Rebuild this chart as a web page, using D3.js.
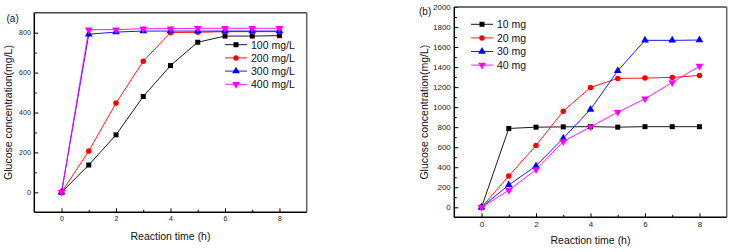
<!DOCTYPE html>
<html><head><meta charset="utf-8">
<script src="https://cdn.jsdelivr.net/npm/d3@7"></script>
<style>body{margin:0;background:#fff}svg{display:block}text{font-family:"Liberation Sans",Arial,sans-serif}</style>
</head><body>
<svg id="c" width="732" height="252"></svg>
<script>
const times = [0,1,2,3,4,5,6,7,8];
// Panel (a)
const seriesA = ["100 mg/L","200 mg/L","300 mg/L","400 mg/L"];
const a100 = [0,137,288,480,635,752,783,783,785];
const a200 = [0,207,447,657,800,802,805,805,805];
const a300 = [0,792,803,808,808,808,808,808,808];
const a400 = [0,815,815,820,820,822,822,822,822];
const yTicksA = [0,200,400,600,800];
// Panel (b)
const seriesB = ["10 mg","20 mg","30 mg","40 mg"];
const b10 = [0,787,800,803,805,800,805,805,805];
const b20 = [0,313,617,960,1197,1287,1290,1297,1317];
const b30 = [0,223,413,690,977,1363,1667,1667,1670];
const b40 = [0,170,377,657,803,950,1083,1247,1410];
const yTicksB = [0,200,400,600,800,1000,1200,1400,1600,1800,2000];
const xTicks = [0,2,4,6,8];

const colors = ["#000000","#ff0000","#0000ff","#ff00ff"];
const shapes = [d3.symbolSquare, d3.symbolCircle, d3.symbolTriangle, "down"];

const svg = d3.select("#c");

function marker(g, k, x, y, size){
  if (shapes[k] === "down") {
    g.append("path").attr("d", d3.symbol(d3.symbolTriangle, size)())
      .attr("transform", `translate(${x},${y}) rotate(180)`).attr("fill", colors[k]);
  } else {
    g.append("path").attr("d", d3.symbol(shapes[k], size)())
      .attr("transform", `translate(${x},${y})`).attr("fill", colors[k]);
  }
}

function panel(o){
  const g = svg.append("g");
  const x = d3.scaleLinear().domain([-1,9]).range([o.l, o.r]);
  const y = d3.scaleLinear().domain(o.yDom).range([o.b, o.t]);
  // minor ticks
  const xMinor = [1,3,5,7];
  const yMinor = d3.range(100, o.yDom[1], 200);
  g.append("g").attr("transform",`translate(0,${o.b})`)
    .call(d3.axisBottom(x).tickValues(xMinor).tickSize(-2.5).tickFormat(""))
    .call(s=>s.select(".domain").remove());
  g.append("g").attr("transform",`translate(${o.l},0)`)
    .call(d3.axisLeft(y).tickValues(yMinor).tickSize(-2.5).tickFormat(""))
    .call(s=>s.select(".domain").remove());
  const xa = g.append("g").attr("transform",`translate(0,${o.b})`)
    .call(d3.axisBottom(x).tickValues(xTicks).tickSize(-4).tickPadding(o.xPad).tickFormat(d3.format("d")));
  const ya = g.append("g").attr("transform",`translate(${o.l},0)`)
    .call(d3.axisLeft(y).tickValues(o.yTicks).tickSize(-4).tickPadding(3.5).tickFormat(d3.format("d")));
  [xa,ya].forEach(a=>{
    a.select(".domain").remove();
    a.selectAll(".tick line").attr("stroke","#000").attr("stroke-width",1);
    a.selectAll(".tick text").attr("font-size",o.tickFont).attr("fill","#222")
      .style("font-family","'Liberation Sans',Arial,sans-serif");
  });
  g.selectAll(".tick line").attr("stroke","#000");
  // frame
  g.append("line").attr("x1",o.l).attr("x2",o.r).attr("y1",o.t).attr("y2",o.t).attr("stroke","#444").attr("stroke-width",1.5);
  g.append("line").attr("x1",o.r).attr("x2",o.r).attr("y1",o.t).attr("y2",o.b).attr("stroke","#666").attr("stroke-width",1.5);
  g.append("line").attr("x1",o.l).attr("x2",o.r).attr("y1",o.b).attr("y2",o.b).attr("stroke","#000").attr("stroke-width",1.5);
  g.append("line").attr("x1",o.l).attr("x2",o.l).attr("y1",o.t).attr("y2",o.b).attr("stroke","#000").attr("stroke-width",1.5);
  // series
  const line = d3.line().x((d,i)=>x(times[i])).y(d=>y(d));
  o.data.forEach((vals,k)=>{
    g.append("path").datum(vals).attr("d",line).attr("fill","none")
      .attr("stroke",colors[k]).attr("stroke-width",0.9);
  });
  o.data.forEach((vals,k)=>{
    vals.forEach((v,i)=> marker(g,k,x(times[i]),y(v), k===1?24:(k===0?25:26)));
  });
  // legend
  o.names.forEach((n,k)=>{
    const ly = o.legY + k*o.legDy;
    g.append("line").attr("x1",o.legX).attr("x2",o.legX+22).attr("y1",ly).attr("y2",ly)
      .attr("stroke",colors[k]).attr("stroke-width",0.9);
    marker(g,k,o.legX+11,ly, k===1?24:(k===0?25:26));
    g.append("text").attr("x",o.legX+26).attr("y",ly+3.8).attr("font-size",10.5).attr("fill","#111").text(n);
  });
  // axis titles
  g.append("text").attr("x",(o.l+o.r)/2).attr("y",o.xTitleY).attr("text-anchor","middle")
    .attr("font-size",10.5).attr("fill","#111").text("Reaction time (h)");
  g.append("text").attr("transform",`translate(${o.yTitleX},${(o.t+o.b)/2}) rotate(-90)`)
    .attr("text-anchor","middle").attr("font-size",10.5).attr("fill","#111").text("Glucose concentration(mg/L)");
  g.append("text").attr("x",o.tagX).attr("y",o.tagY).attr("font-size",10).attr("fill","#111").text(o.tag);
}

panel({l:34.3, r:306.7, t:12.7, b:212.3, yDom:[-100,900], yTicks:yTicksA,
  data:[a100,a200,a300,a400], names:seriesA, tickFont:7, xPad:4,
  legX:225, legY:44.7, legDy:13.2, xTitleY:240, yTitleX:12, tag:"(a)", tagX:6.5, tagY:22});
panel({l:454.3, r:726.7, t:7, b:217.3, yDom:[-100,2000], yTicks:yTicksB,
  data:[b10,b20,b30,b40], names:seriesB, tickFont:8, xPad:4.5,
  legX:471, legY:24.3, legDy:13.6, xTitleY:244, yTitleX:428, tag:"(b)", tagX:419, tagY:15});
</script>
</body></html>
